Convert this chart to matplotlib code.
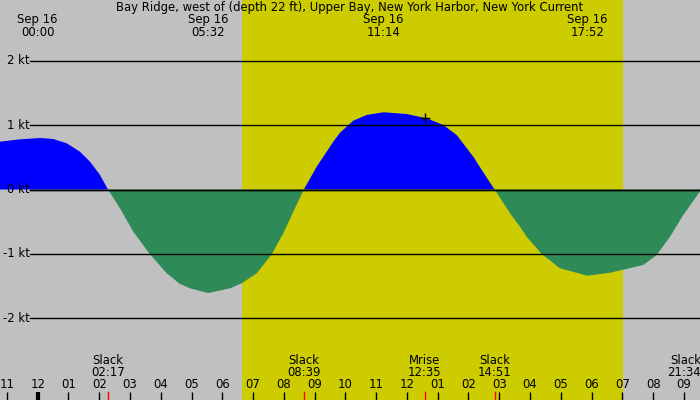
import matplotlib
matplotlib.use("Agg")
import matplotlib.pyplot as plt
import numpy as np

# hours after Sep 16 00:00, current speed in knots (flood > 0, ebb < 0)
hours = [-1.225, -0.575, 0.075, 0.507, 0.942, 1.375, 1.70, 2.025, 2.283,
         2.675, 3.107, 3.65, 4.192, 4.625, 4.95, 5.533, 5.60, 6.25, 6.63,
         7.117, 7.605, 7.982, 8.307, 8.65, 9.067, 9.607, 9.825, 10.257,
         10.692, 11.233, 11.992, 12.642, 13.182, 13.617, 14.157, 14.537,
         14.85, 15.35, 15.675, 15.892, 16.38, 16.975, 17.867, 18.60, 19.087,
         19.682, 20.117, 20.55, 20.982, 21.567]
speed = [0.744, 0.781, 0.802, 0.786, 0.719, 0.588, 0.433, 0.226, 0.0,
         -0.293, -0.657, -1.009, -1.304, -1.471, -1.538, -1.61, -1.606, -1.538, -1.46,
         -1.304, -1.009, -0.682, -0.346, 0.0, 0.355, 0.744, 0.884, 1.071,
         1.160, 1.202, 1.175, 1.108, 1.004, 0.848, 0.51, 0.226,
         0.0, -0.37, -0.579, -0.735, -1.004, -1.226, -1.342, -1.295, -1.242,
         -1.175, -1.019, -0.735, -0.397, 0.0]

title = "Bay Ridge, west of (depth 22 ft), Upper Bay, New York Harbor, New York Current"
peak_hours = [0.0, 5.533, 11.233, 17.867]
peak_labels = ["Sep 16\n00:00", "Sep 16\n05:32", "Sep 16\n11:14", "Sep 16\n17:52"]
event_hours = [2.283, 8.65, 12.583, 14.85, 21.567]
event_labels = ["Slack\n02:17", "Slack\n08:39", "Mrise\n12:35", "Slack\n14:51", "Slack\n21:34"]
moonrise = (12.583, 1.108)
sunrise, sunset = 6.64, 19.02
kt_levels = [2, 1, 0, -1, -2]
hour_ticks = list(range(-1, 22))

px_h = 30.77   # pixels per hour
px_kt = 64.25  # pixels per knot
x0 = -37.7 / px_h
x1 = x0 + 700 / px_h
y1 = 189.5 / px_kt
y0 = y1 - 400 / px_kt
FS = 8.4

fig = plt.figure(figsize=(7, 4), dpi=100)
ax = fig.add_axes([0, 0, 1, 1])
ax.set_xlim(x0, x1)
ax.set_ylim(y0, y1)
ax.axis("off")

ax.axvspan(x0, x1, color="#c0c0c0", lw=0, zorder=0)
ax.axvspan(sunrise, sunset, color="#cccc00", lw=0, zorder=0.5)

h = np.array(hours)
s = np.array(speed)
ax.fill_between(h, 0, s, where=s >= 0, interpolate=True, color="#0000ff", lw=0, zorder=1)

# horizontal kt lines; labels to the left
line_start = x0 + 30 / px_h
for k in kt_levels:
    z = 2 if k > 0 else 4
    ax.plot([line_start, x1], [k, k], color="black", lw=1, zorder=z)
    ax.text(line_start - 0.02, k, f"{k} kt", ha="right", va="center",
            fontsize=FS, zorder=8)

ax.fill_between(h, 0, s, where=s <= 0, interpolate=True, color="#2e8b57", lw=0, zorder=3)
ax.plot([line_start, x1], [0, 0], color="black", lw=1, zorder=4)

ax.plot(*moonrise, marker="+", color="black", ms=7, mew=1, zorder=5)

ax.text((x0 + x1) / 2, y1 - 8 / px_kt, title, ha="center", va="center", fontsize=FS, zorder=8)
for hr, lab in zip(peak_hours, peak_labels):
    ax.text(hr, y1 - 26 / px_kt, lab, ha="center", va="center", fontsize=FS,
            linespacing=0.95, zorder=8)

# bottom hour ticks
tick_len = 8 / px_kt
for t in hour_ticks:
    lab = f"{(t % 12) or 12:02d}"
    ax.plot([t, t], [y0, y0 + tick_len], color="black",
            lw=3 if t == 0 else 1, solid_capstyle="butt", zorder=6)
    ax.text(t, y0 + 15 / px_kt, lab, ha="center", va="center", fontsize=FS, zorder=8)

for hr, lab in zip(event_hours, event_labels):
    ax.plot([hr, hr], [y0, y0 + tick_len], color="red", lw=1, zorder=7)
    ha = "right" if hr > x1 - 0.4 else "center"
    ax.text(hr if ha == "center" else x1 + 0.03, y0 + 33 / px_kt, lab, ha=ha, va="center",
            fontsize=FS, linespacing=0.9, zorder=8)

fig.savefig("out.png", dpi=100)
